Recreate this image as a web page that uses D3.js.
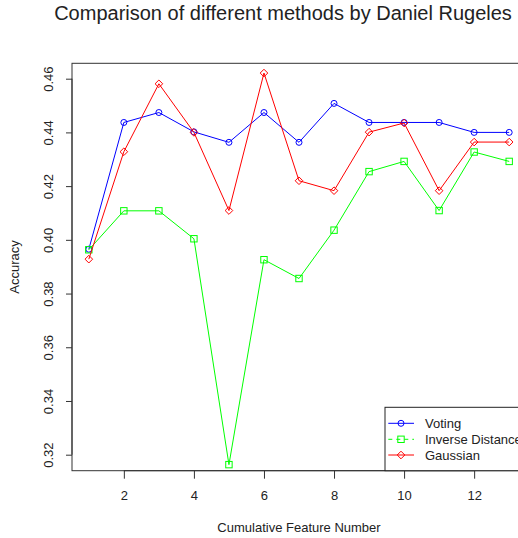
<!DOCTYPE html>
<html>
<head>
<meta charset="utf-8">
<script src="https://cdn.jsdelivr.net/npm/d3@7"></script>
<style>
  html, body { margin: 0; padding: 0; background: #fff; }
  svg { display: block; }
  text { font-family: "Liberation Sans", Arial, sans-serif; fill: #222; }
</style>
</head>
<body>
<svg id="chart" width="518" height="538"></svg>
<script>
// ---- data ----
const features = [1, 2, 3, 4, 5, 6, 7, 8, 9, 10, 11, 12, 13];
const voting = [0.3965, 0.4437, 0.4474, 0.4402, 0.4363, 0.4474, 0.4363, 0.4508, 0.4437, 0.4437, 0.4437, 0.4400, 0.4400];
const inverseDistance = [0.3963, 0.4108, 0.4108, 0.4004, 0.3163, 0.3926, 0.3856, 0.4036, 0.4254, 0.4292, 0.4109, 0.4327, 0.4292];
const gaussian = [0.3928, 0.4328, 0.4581, 0.4400, 0.4109, 0.4621, 0.4220, 0.4183, 0.4401, 0.4435, 0.4183, 0.4364, 0.4364];
const xTicks = [2, 4, 6, 8, 10, 12];
const yTicks = [0.32, 0.34, 0.36, 0.38, 0.40, 0.42, 0.44, 0.46];
const seriesNames = ["Voting", "Inverse Distance", "Gaussian"];
const titleText = "Comparison of different methods by Daniel Rugeles";
const xLabel = "Cumulative Feature Number";
const yLabel = "Accuracy";

// ---- layout ----
const pLeft = 72, pRight = 526, pTop = 63.3, pBottom = 470.7;
const svg = d3.select("#chart");

const x = d3.scaleLinear().domain([0.52, 13.48]).range([pLeft, pRight]);
const y = d3.scaleLinear().domain([0.31404, 0.46573]).range([pBottom, pTop]);

const series = [
  { name: seriesNames[0], values: voting, color: "#0000FF", shape: "circle", dash: null },
  { name: seriesNames[1], values: inverseDistance, color: "#00FF00", shape: "square", dash: "4,4" },
  { name: seriesNames[2], values: gaussian, color: "#FF0000", shape: "diamond", dash: null }
];

function drawMarker(g, shape, cx, cy, color) {
  if (shape === "circle") {
    g.append("circle").attr("cx", cx).attr("cy", cy).attr("r", 3)
      .attr("fill", "none").attr("stroke", color).attr("stroke-width", 1);
  } else if (shape === "square") {
    g.append("rect").attr("x", cx - 3.2).attr("y", cy - 3.2).attr("width", 6.4).attr("height", 6.4)
      .attr("fill", "none").attr("stroke", color).attr("stroke-width", 1);
  } else {
    const r = 3.8;
    g.append("path").attr("d", `M${cx},${cy - r}L${cx + r},${cy}L${cx},${cy + r}L${cx - r},${cy}Z`)
      .attr("fill", "none").attr("stroke", color).attr("stroke-width", 1);
  }
}

// ---- series ----
const line = d3.line().x((d, i) => x(features[i])).y(d => y(d));
series.forEach(s => {
  svg.append("path").datum(s.values).attr("d", line)
    .attr("fill", "none").attr("stroke", s.color).attr("stroke-width", 1);
  const g = svg.append("g");
  s.values.forEach((v, i) => drawMarker(g, s.shape, x(features[i]), y(v), s.color));
});

// ---- box ----
svg.append("rect").attr("x", pLeft).attr("y", pTop).attr("width", pRight - pLeft).attr("height", pBottom - pTop)
  .attr("fill", "none").attr("stroke", "#333").attr("stroke-width", 1);

// ---- axes ----
const xAxis = svg.append("g").attr("transform", `translate(0,${pBottom})`)
  .call(d3.axisBottom(x).tickValues(xTicks).tickSize(8).tickSizeOuter(0).tickFormat(d3.format("d")));
xAxis.select(".domain").remove();
xAxis.append("line").attr("x1", x(xTicks[0])).attr("x2", x(xTicks[xTicks.length - 1]))
  .attr("y1", 0).attr("y2", 0).attr("stroke", "#333");
xAxis.selectAll(".tick line").attr("stroke", "#333");
xAxis.selectAll(".tick text").attr("y", 0).attr("dy", null)
  .attr("transform", "translate(0,29)")
  .style("font-family", '"Liberation Sans", Arial, sans-serif').style("font-size", "13px").attr("fill", "#222");

const yAxis = svg.append("g").attr("transform", `translate(${pLeft},0)`)
  .call(d3.axisLeft(y).tickValues(yTicks).tickSize(6).tickSizeOuter(0).tickFormat(d3.format(".2f")));
yAxis.select(".domain").remove();
yAxis.append("line").attr("y1", y(yTicks[0])).attr("y2", y(yTicks[yTicks.length - 1]))
  .attr("x1", 0).attr("x2", 0).attr("stroke", "#333");
yAxis.selectAll(".tick line").attr("stroke", "#333");
yAxis.selectAll(".tick text")
  .attr("x", null).attr("dy", null)
  .attr("text-anchor", "middle")
  .attr("transform", "translate(-19,0) rotate(-90)")
  .style("font-family", '"Liberation Sans", Arial, sans-serif').style("font-size", "13px").attr("fill", "#222");

// ---- titles ----
svg.append("text").attr("x", 283).attr("y", 19.5).attr("text-anchor", "middle")
  .style("font-size", "20px").text(titleText);
svg.append("text").attr("x", (pLeft + pRight) / 2).attr("y", 532).attr("text-anchor", "middle")
  .style("font-size", "13px").text(xLabel);
svg.append("text").attr("transform", `translate(19,${(pTop + pBottom) / 2}) rotate(-90)`)
  .attr("text-anchor", "middle").style("font-size", "13px").text(yLabel);

// ---- legend ----
const lg = svg.append("g");
const lgLeft = 385, lgTop = 407.3;
lg.append("rect").attr("x", lgLeft).attr("y", lgTop).attr("width", 200).attr("height", pBottom - lgTop)
  .attr("fill", "#fff").attr("stroke", "#222").attr("stroke-width", 1);
const rowY = [423.3, 439.3, 455];
series.forEach((s, i) => {
  lg.append("line").attr("x1", 388.3).attr("x2", 414).attr("y1", rowY[i]).attr("y2", rowY[i])
    .attr("stroke", s.color).attr("stroke-width", 1).attr("stroke-dasharray", s.dash);
  drawMarker(lg, s.shape, 401, rowY[i], s.color);
  lg.append("text").attr("x", 425).attr("y", rowY[i] + 4.7).style("font-size", "13px").text(s.name);
});
</script>
</body>
</html>
